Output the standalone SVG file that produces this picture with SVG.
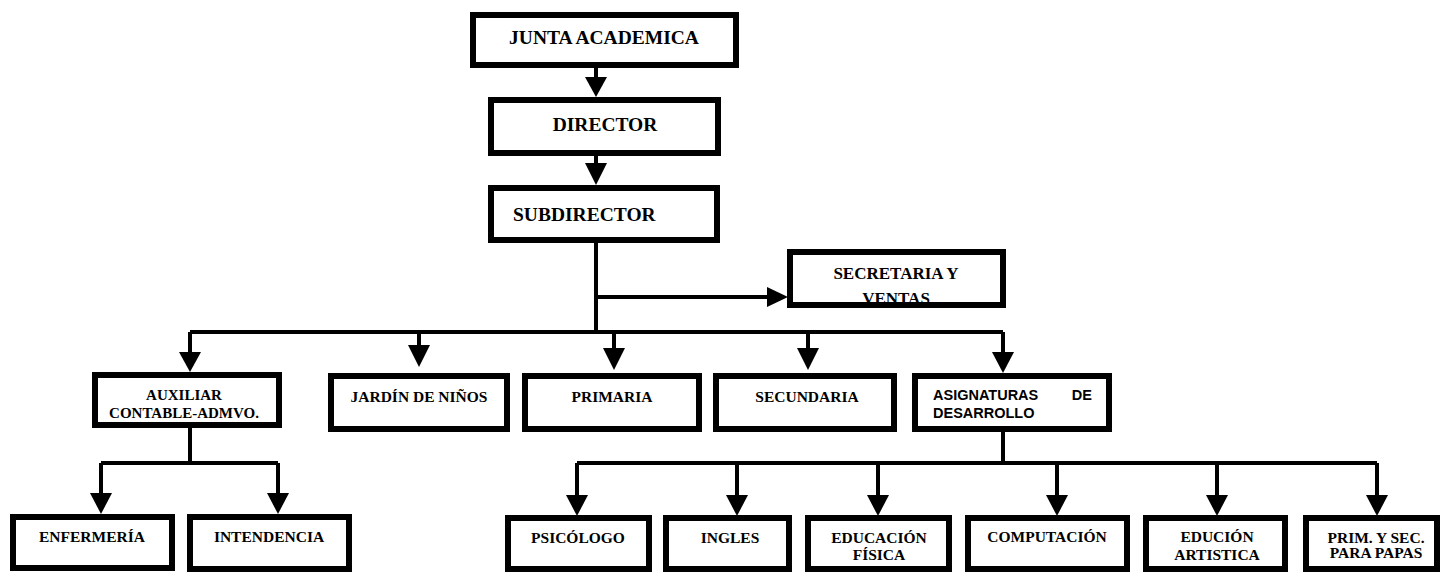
<svg xmlns="http://www.w3.org/2000/svg" width="1441" height="572" viewBox="0 0 1441 572">
<style>
.box{fill:#fff;stroke:#000;stroke-width:6}
.t{font-family:"Liberation Serif","Times New Roman",serif;font-weight:bold;fill:#000;text-anchor:middle}
.ts{font-family:"Liberation Serif","Times New Roman",serif;font-weight:bold;fill:#000;text-anchor:start}
.s{font-family:"Liberation Sans",Arial,sans-serif;font-weight:bold;fill:#000}
.ln{stroke:#000;stroke-width:4;fill:none}
.ah{fill:#000}
</style>
<defs>
<clipPath id="secClip"><rect x="787" y="249" width="219" height="53"/></clipPath>
</defs>
<rect width="1441" height="572" fill="#fff"/>
<g id="connectors">
<path class="ln" d="M596 68V80M596 156V166M596 243V332M596 297H770M190 332H1003M190 332V355M419 332V347M614 332V350M808 332V350M1003 332V355M1003 432V463M577 463H1377M577 463V497M737 463V497M878 463V497M1057 463V497M1217 463V497M1377 463V497M190 428V463M101 463H278M101 463V495M278 463V495"/>
<polygon class="ah" points="585,77 607,77 596,97"/>
<polygon class="ah" points="585,163 607,163 596,185"/>
<polygon class="ah" points="767,287 767,307 788,297"/>
<polygon class="ah" points="179,352 201,352 190,372"/>
<polygon class="ah" points="408,345 430,345 419,367"/>
<polygon class="ah" points="603,348 625,348 614,370"/>
<polygon class="ah" points="797,348 819,348 808,370"/>
<polygon class="ah" points="992,352 1014,352 1003,373"/>
<polygon class="ah" points="90,493 112,493 101,514"/>
<polygon class="ah" points="267,493 289,493 278,514"/>
<polygon class="ah" points="566,495 588,495 577,516"/>
<polygon class="ah" points="726,495 748,495 737,516"/>
<polygon class="ah" points="867,495 889,495 878,516"/>
<polygon class="ah" points="1046,495 1068,495 1057,516"/>
<polygon class="ah" points="1206,495 1228,495 1217,516"/>
<polygon class="ah" points="1366,495 1388,495 1377,516"/>
</g>
<g id="junta"><rect class="box" x="473" y="15" width="263" height="50"/><text class="t" x="604" y="44" font-size="19.5">JUNTA ACADEMICA</text></g>
<g id="director"><rect class="box" x="491" y="100" width="227" height="53"/><text class="t" x="605" y="131" font-size="19.5">DIRECTOR</text></g>
<g id="subdirector"><rect class="box" x="491" y="188" width="226" height="52"/><text class="ts" x="513" y="221" font-size="19.5">SUBDIRECTOR</text></g>
<g id="secretaria"><rect class="box" x="790" y="252" width="213" height="53"/><g clip-path="url(#secClip)"><text class="t" x="896" y="279" font-size="17">SECRETARIA Y</text><text class="t" x="896" y="304" font-size="17">VENTAS</text></g><rect x="790" y="252" width="213" height="53" fill="none" stroke="#000" stroke-width="6"/></g>
<g id="auxiliar"><rect class="box" x="95" y="375" width="184" height="50"/><text class="t" x="184" y="400" font-size="15">AUXILIAR</text><text class="t" x="184" y="418" font-size="15">CONTABLE-ADMVO.</text></g>
<g id="jardin"><rect class="box" x="331" y="376" width="176" height="53"/><text class="t" x="419" y="402" font-size="15.5">JARDÍN DE NIÑOS</text></g>
<g id="primaria"><rect class="box" x="525" y="376" width="174" height="53"/><text class="t" x="612" y="402" font-size="15.5">PRIMARIA</text></g>
<g id="secundaria"><rect class="box" x="716" y="376" width="178" height="53"/><text class="t" x="807" y="402" font-size="15.5">SECUNDARIA</text></g>
<g id="asignaturas"><rect class="box" x="915" y="376" width="194" height="53"/><text class="s" x="933" y="400" font-size="14.5">ASIGNATURAS</text><text class="s" x="1092" y="400" font-size="14.5" text-anchor="end">DE</text><text class="s" x="933" y="418" font-size="14.5">DESARROLLO</text></g>
<g id="enfermeria"><rect class="box" x="13" y="517" width="159" height="51"/><text class="t" x="92" y="542" font-size="15.5">ENFERMERÍA</text></g>
<g id="intendencia"><rect class="box" x="190" y="517" width="159" height="52"/><text class="t" x="269" y="542" font-size="15.5">INTENDENCIA</text></g>
<g id="psicologo"><rect class="box" x="508" y="518" width="141" height="51"/><text class="t" x="578" y="543" font-size="15.5">PSICÓLOGO</text></g>
<g id="ingles"><rect class="box" x="666" y="518" width="123" height="51"/><text class="t" x="730" y="543" font-size="15.5">INGLES</text></g>
<g id="edfisica"><rect class="box" x="808" y="518" width="141" height="51"/><text class="t" x="879" y="543" font-size="15.5">EDUCACIÓN</text><text class="t" x="879" y="560" font-size="15.5">FÍSICA</text></g>
<g id="computacion"><rect class="box" x="968" y="518" width="159" height="51"/><text class="t" x="1047" y="542" font-size="15.5">COMPUTACIÓN</text></g>
<g id="artistica"><rect class="box" x="1146" y="518" width="139" height="51"/><text class="t" x="1217" y="542" font-size="15.5">EDUCIÓN</text><text class="t" x="1217" y="560" font-size="15.5">ARTISTICA</text></g>
<g id="papas"><rect class="box" x="1306" y="518" width="131" height="51"/><text class="t" x="1376" y="543" font-size="15.5">PRIM. Y SEC.</text><text class="t" x="1376" y="558" font-size="15.5">PARA PAPAS</text></g>
</svg>
